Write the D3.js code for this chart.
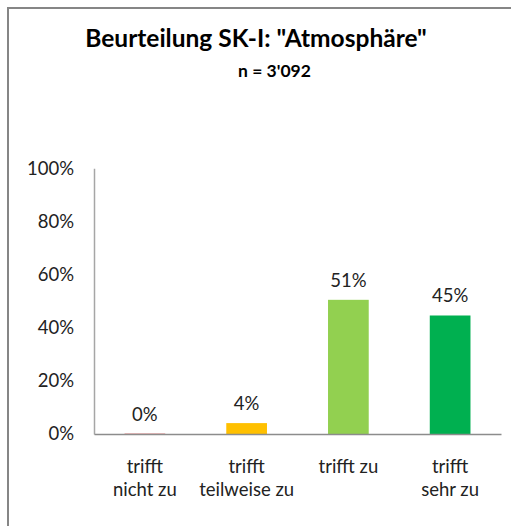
<!DOCTYPE html>
<html><head><meta charset="utf-8">
<script src="https://cdn.jsdelivr.net/npm/d3@7"></script>
<style>
html,body{margin:0;padding:0;background:#fff;}
svg{display:block;font-family:Lato,"Open Sans",sans-serif;}
</style></head>
<body>
<svg id="chart" width="511" height="526"></svg>
<script>
const categories = [["trifft","nicht zu"],["trifft","teilweise zu"],["trifft zu"],["trifft","sehr zu"]];
const values = [0.1, 4.1, 50.5, 44.6];
const colors = ["#c00000", "#ffc000", "#92d050", "#00b050"];
const yTicks = [0, 20, 40, 60, 80, 100];
const title = 'Beurteilung SK-I: "Atmosphäre"';
const subtitle = "n = 3'092";

const svg = d3.select("#chart");
const W = 511, H = 526;
// frame
svg.append("path").attr("d", `M8,${H} L8,8 L${W},8`).attr("fill","none").attr("stroke","#868686").attr("stroke-width",2);

svg.append("text").attr("x", 256).attr("y", 47).attr("text-anchor","middle")
  .attr("font-weight","bold").attr("font-size",24.5).attr("fill","#000").text(title);
svg.append("text").attr("x", 274.5).attr("y", 76.5).attr("text-anchor","middle")
  .attr("font-weight","bold").attr("font-size",17.5).attr("fill","#000").text(subtitle);

const x = d3.scaleBand().domain(d3.range(categories.length)).range([94, 501]).paddingInner(0.6).paddingOuter(0.3);
const y = d3.scaleLinear().domain([0, 100]).range([434, 168.3]);

// y axis
const yAxis = svg.append("g").attr("transform","translate(94,0)")
  .call(d3.axisLeft(y).tickValues(yTicks).tickSize(0).tickPadding(20).tickFormat(d => d + "%"));
yAxis.select(".domain").attr("stroke","#a6a6a6").attr("stroke-width",1.5);
yAxis.selectAll("text").attr("font-size",18.5).attr("fill","#222").attr("font-family","Lato, sans-serif");

// bars
svg.selectAll("rect.bar").data(values).join("rect").attr("class","bar")
  .attr("x",(d,i)=>x(i)).attr("width",x.bandwidth())
  .attr("y",d=>y(d)).attr("height",d=>y(0)-y(d)).attr("fill",(d,i)=>colors[i]);

// x axis
const xAxis = svg.append("g").attr("transform",`translate(0,${y(0)})`)
  .call(d3.axisBottom(x).tickSize(0).tickFormat(""));
xAxis.select(".domain").attr("stroke","#8c8c8c").attr("stroke-width",1.5);

// value labels
svg.selectAll("text.val").data(values).join("text").attr("class","val")
  .attr("x",(d,i)=>x(i)+x.bandwidth()/2).attr("y",d=>y(d)-13)
  .attr("text-anchor","middle").attr("font-size",18.5).attr("fill","#222")
  .text(d=>Math.round(d)+"%");

// category labels
categories.forEach((lines,i)=>{
  const t = svg.append("text").attr("x", x(i)+x.bandwidth()/2).attr("y", 473)
    .attr("text-anchor","middle").attr("font-size",18.5).attr("fill","#222");
  lines.forEach((l,j)=>t.append("tspan").attr("x", x(i)+x.bandwidth()/2).attr("dy", j===0?0:23).text(l));
});
</script>
</body></html>
